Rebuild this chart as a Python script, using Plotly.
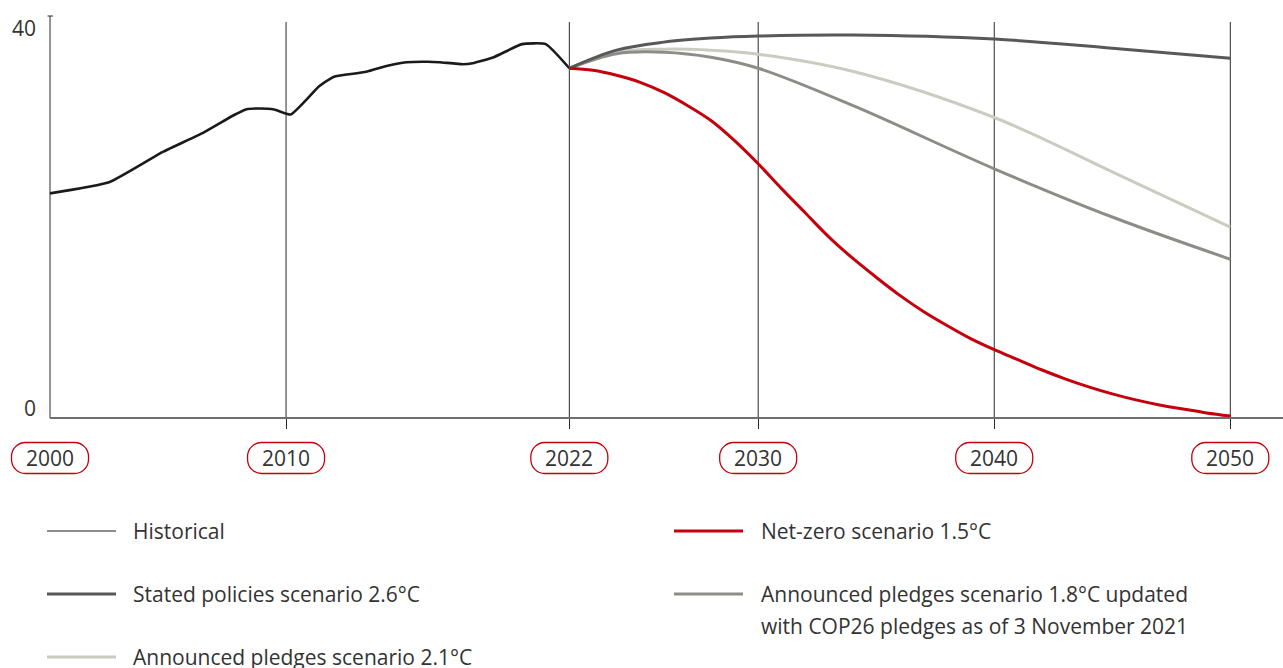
import plotly.graph_objects as go

# ---------------- data ----------------
hist_years = [2000, 2002.5, 2004.8, 2006.5, 2007.8, 2008.3, 2008.9, 2009.5, 2010.2,
              2011.4, 2011.9, 2012.1, 2013.4, 2014.3, 2015.1, 2016.0, 2016.5, 2017.5,
              2017.9, 2018.8, 2020.0, 2021.0, 2022.0]
hist_vals = [22.35, 23.45, 26.5, 28.4, 30.15, 30.7, 30.8, 30.7, 30.2,
             33.0, 33.8, 34.0, 34.45, 35.05, 35.4, 35.45, 35.4, 35.2,
             35.3, 35.9, 37.2, 37.2, 34.8]

scen_years = [2022, 2024, 2026, 2028, 2030, 2034, 2040, 2045, 2050]
stated_vals = [34.8, 36.6, 37.4, 37.8, 38.0, 38.1, 37.7, 36.8, 35.8]
aps21_vals = [34.8, 36.4, 36.7, 36.6, 36.2, 34.5, 29.9, 24.5, 19.0]
aps18_vals = [34.8, 36.25, 36.4, 35.9, 34.8, 31.1, 24.8, 20.0, 15.8]

nz_years = [2022, 2023, 2024, 2025, 2026, 2027, 2028, 2029, 2030, 2031, 2032, 2033,
            2034, 2035, 2036, 2037, 2038, 2039, 2040, 2041, 2042, 2043, 2044, 2045,
            2046, 2047, 2048, 2049, 2050]
nz_vals = [34.8, 34.6, 34.1, 33.4, 32.4, 31.1, 29.6, 27.6, 25.3, 22.8, 20.4, 18.0,
           15.9, 14.0, 12.2, 10.6, 9.2, 7.9, 6.8, 5.8, 4.8, 3.9, 3.1, 2.4,
           1.8, 1.3, 0.9, 0.5, 0.2]

year_labels = [2000, 2010, 2022, 2030, 2040, 2050]
grid_years = [2010, 2022, 2030, 2040, 2050]
y_labels = [40, 0]

names = {
    "hist": "Historical",
    "stated": "Stated policies scenario 2.6°C",
    "aps21": "Announced pledges scenario 2.1°C",
    "nz": "Net-zero scenario 1.5°C",
    "aps18": ["Announced pledges scenario 1.8°C updated",
              "with COP26 pledges as of 3 November 2021"],
}

# ---------------- styling ----------------
C_HIST = "#1a1a1a"
C_STATED = "#58585a"
C_APS21 = "#cbcbbf"
C_APS18 = "#8d8d88"
C_NZ = "#c4000c"
C_TEXT = "#333333"
C_GRID = "#2a2a2a"
FONT = "Open Sans"
FS = 21

W, H = 1283, 668
M_T, M_B = 16, 250
PLOT_H = H - M_T - M_B
PX_PER_YEAR = (1230.3 - 50) / 50.0
x_min = 2000 - 50 / PX_PER_YEAR
x_max = 2000 + (W - 50) / PX_PER_YEAR


def px(xp):
    return xp / W


def py(yp):
    return (H - M_B - yp) / PLOT_H


fig = go.Figure()

fig.add_trace(go.Scatter(x=hist_years, y=hist_vals, mode="lines", name=names["hist"],
                         line=dict(color=C_HIST, width=2.6, shape="spline", smoothing=0.45)))
fig.add_trace(go.Scatter(x=scen_years, y=aps21_vals, mode="lines", name=names["aps21"],
                         line=dict(color=C_APS21, width=3, shape="spline")))
fig.add_trace(go.Scatter(x=scen_years, y=aps18_vals, mode="lines", name=" ".join(names["aps18"]),
                         line=dict(color=C_APS18, width=3, shape="spline")))
fig.add_trace(go.Scatter(x=scen_years, y=stated_vals, mode="lines", name=names["stated"],
                         line=dict(color=C_STATED, width=3, shape="spline")))
fig.add_trace(go.Scatter(x=nz_years, y=nz_vals, mode="lines", name=names["nz"],
                         line=dict(color=C_NZ, width=3, shape="spline")))

shapes = []
shapes.append(dict(type="line", xref="x", yref="y", x0=2000, x1=2000, y0=0, y1=40,
                   line=dict(color=C_GRID, width=1), layer="below"))
shapes.append(dict(type="line", xref="paper", yref="paper", x0=px(47.5), x1=px(53), y0=1, y1=1,
                   line=dict(color=C_GRID, width=1)))
for g in grid_years:
    shapes.append(dict(type="line", xref="x", yref="y", x0=g, x1=g, y0=0, y1=39.4,
                       line=dict(color=C_GRID, width=1), layer="below"))
shapes.append(dict(type="line", xref="x", yref="paper", x0=2000, x1=x_max, y0=0, y1=0,
                   line=dict(color="#6e6e6e", width=2)))


def pill_path(w, h, top, r):
    x0, x1 = -w / 2, w / 2
    y0, y1 = top, top - h
    k = 0.5523 * r
    return (f"M {x0 + r},{y0} L {x1 - r},{y0} "
            f"C {x1 - r + k},{y0} {x1},{y0 - r + k} {x1},{y0 - r} "
            f"L {x1},{y1 + r} "
            f"C {x1},{y1 + r - k} {x1 - r + k},{y1} {x1 - r},{y1} "
            f"L {x0 + r},{y1} "
            f"C {x0 + r - k},{y1} {x0},{y1 + r - k} {x0},{y1 + r} "
            f"L {x0},{y0 - r} "
            f"C {x0},{y0 - r + k} {x0 + r - k},{y0} {x0 + r},{y0} Z")


annotations = []
for yr in year_labels:
    shapes.append(dict(type="path", xref="x", yref="paper", xsizemode="pixel", ysizemode="pixel",
                       xanchor=yr, yanchor=0, path=pill_path(77, 31, -24.5, 14),
                       line=dict(color=C_NZ, width=1.3), fillcolor="rgba(0,0,0,0)"))
    annotations.append(dict(x=yr, y=0, xref="x", yref="paper", text=str(yr), showarrow=False,
                            xanchor="center", yanchor="middle", yshift=-40,
                            font=dict(family=FONT, size=FS, color=C_TEXT)))

for v in y_labels:
    annotations.append(dict(x=px(38), y=v, xref="paper", yref="y", text=str(v), showarrow=False,
                            xanchor="right", yanchor="middle", yshift=(-11.5 if v == 40 else 10.5),
                            font=dict(family=FONT, size=FS, color=C_TEXT)))

legend_items = [
    (names["hist"], C_HIST, 1, 47, 116, 131, 531),
    (names["stated"], C_STATED, 3, 47, 116, 131, 594),
    (names["aps21"], C_APS21, 3, 47, 116, 131, 657),
    (names["nz"], C_NZ, 3, 674, 743, 759, 531),
    (names["aps18"][0], C_APS18, 3, 674, 743, 759, 594),
]
for label, col, lw, lx0, lx1, tx, ly in legend_items:
    shapes.append(dict(type="line", xref="paper", yref="paper", x0=px(lx0), x1=px(lx1),
                       y0=py(ly), y1=py(ly), line=dict(color=col, width=lw)))
    annotations.append(dict(x=px(tx), y=py(ly), xref="paper", yref="paper", text=label,
                            showarrow=False, xanchor="left", yanchor="middle",
                            font=dict(family=FONT, size=FS, color=C_TEXT)))
annotations.append(dict(x=px(759), y=py(626), xref="paper", yref="paper", text=names["aps18"][1],
                        showarrow=False, xanchor="left", yanchor="middle",
                        font=dict(family=FONT, size=FS, color=C_TEXT)))

fig.update_layout(
    width=W, height=H, autosize=False,
    margin=dict(l=0, r=0, t=M_T, b=M_B, pad=0),
    paper_bgcolor="white", plot_bgcolor="white",
    showlegend=False,
    shapes=shapes, annotations=annotations,
    xaxis=dict(range=[x_min, x_max], showgrid=False, zeroline=False, showline=False,
               tickvals=grid_years, ticks="outside", ticklen=10, tickwidth=1, tickcolor=C_GRID,
               showticklabels=False, fixedrange=True),
    yaxis=dict(range=[0, 40], showgrid=False, zeroline=False, showline=False,
               showticklabels=False, ticks="", fixedrange=True),
    font=dict(family=FONT, color=C_TEXT),
)

fig.write_html("out.html", config={"displayModeBar": False},
               post_script="document.body.style.margin='0';")
